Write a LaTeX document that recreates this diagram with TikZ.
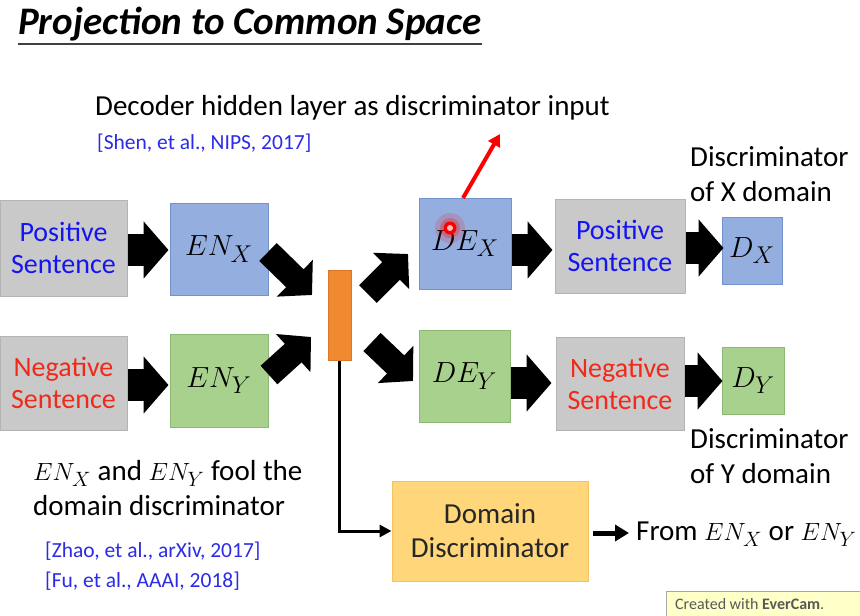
\documentclass[tikz,border=0pt]{standalone}
\usepackage{fontspec}
\setmainfont{Carlito}
\usepackage{graphicx}
\usetikzlibrary{arrows.meta}
\newcommand\boxmath[1]{\scalebox{1.17}{$#1$}}
\definecolor{grayfill}{HTML}{C9C9C9}
\definecolor{grayline}{HTML}{B4B4B4}
\definecolor{bluefill}{HTML}{94AEE0}
\definecolor{blueline}{HTML}{7493CC}
\definecolor{greenfill}{HTML}{A9D18E}
\definecolor{greenline}{HTML}{8DB872}
\definecolor{orangebar}{HTML}{F08A30}
\definecolor{orangeline}{HTML}{D9772A}
\definecolor{domfill}{HTML}{FFD77A}
\definecolor{domline}{HTML}{F5C260}
\definecolor{citeblue}{HTML}{2B2BE8}
\definecolor{txtblue}{HTML}{1515F0}
\definecolor{txtred}{HTML}{F02A1A}
\definecolor{ecfill}{HTML}{FFFFC8}
\tikzset{
  box/.style={draw, line width=1pt, inner sep=0pt, align=center},
  sentbox/.style={box, fill=grayfill, draw=grayline, font=\fontsize{28}{32}\selectfont},
  encbox/.style={box, fill=bluefill, draw=blueline, font=\fontsize{24.88}{30}\selectfont},
  encgbox/.style={box, fill=greenfill, draw=greenline, font=\fontsize{24.88}{30}\selectfont},
  lbl/.style={anchor=west, inner sep=0pt, align=left, font=\fontsize{29}{34.5}\selectfont},
  cite/.style={anchor=west, inner sep=0pt, align=left, text=citeblue, font=\fontsize{21.5}{30}\selectfont},
  fatarrow/.style={line width=32pt, -{Triangle[width=56pt,length=25pt]}},
  diagarrow/.style={line width=25pt, -{Triangle[width=50pt,length=24pt]}},
}
\begin{document}
\begin{tikzpicture}[x=1pt,y=-1pt]
\useasboundingbox (0,0) rectangle (860,616);
\fill[white] (0,0) rectangle (860,616);

% title
\node[anchor=west, inner sep=0pt, font=\fontsize{39}{40}\selectfont\bfseries\itshape] (title) at (18,24) {Projection to Common Space};
\draw[line width=1.3pt, black!75] (title.west |- 0,44) -- ++(464,0);

% top text
\node[lbl] (dec) at (95,108) {Decoder hidden layer as discriminator input};
\node[cite] (shen) at (97,143) {[Shen, et al., NIPS, 2017]};

% boxes row 1
\node[sentbox, minimum width=127pt, minimum height=96pt, text=txtblue] (pos1) at (63.5,248) {Positive\\Sentence};
\node[encbox, minimum width=98pt, minimum height=92pt] (enx) at (219,249) {\boxmath{EN_X}};
\node[encbox, minimum width=92pt, minimum height=91pt] (dex) at (465,243.5) {\boxmath{DE_X}};
\node[sentbox, minimum width=130pt, minimum height=94pt, text=txtblue] (pos2) at (620,246) {Positive\\Sentence};
\node[encbox, minimum width=60pt, minimum height=67pt] (dxd) at (752,250.5) {\boxmath{D_X}};

% boxes row 2
\node[sentbox, minimum width=127pt, minimum height=94pt, text=txtred] (neg1) at (63.5,383) {Negative\\Sentence};
\node[encgbox, minimum width=98pt, minimum height=93pt] (eny) at (219,380.5) {\boxmath{EN_Y}};
\node[encgbox, minimum width=91pt, minimum height=92pt] (dey) at (464.5,376) {\boxmath{DE_Y}};
\node[sentbox, minimum width=128pt, minimum height=93pt, text=txtred] (neg2) at (620,383.5) {Negative\\Sentence};
\node[encgbox, minimum width=62pt, minimum height=67pt] (dyd) at (753,380.5) {\boxmath{D_Y}};

% orange bar
\node[box, fill=orangebar, draw=orangeline, minimum width=23pt, minimum height=90pt] (bar) at (339.5,315) {};

% domain discriminator
\node[box, fill=domfill, draw=domline, minimum width=196pt, minimum height=100pt, text=black!85, font=\fontsize{29}{34}\selectfont] (dom) at (490,531) {Domain\\Discriminator};

% labels
\node[lbl] (dxl) at (690,174) {Discriminator\\of X domain};
\node[lbl] (dyl) at (690,456) {Discriminator\\of Y domain};
\node[lbl] (fool) at (33,488) {$EN_X$ and $EN_Y$ fool the\\domain discriminator};
\node[cite] (zhao) at (45,566) {[Zhao, et al., arXiv, 2017]\\{}[Fu, et al., AAAI, 2018]};
\node[lbl] (from) at (636,534) {From $EN_X$ or $EN_Y$};

% horizontal fat arrows
\draw[fatarrow] (pos1.east |- 0,250) -- ++(41,0);
\draw[fatarrow] (neg1.east |- 0,385) -- ++(41,0);
\draw[fatarrow] (dex.east |- 0,250) -- ++(41,0);
\draw[fatarrow] (dey.east |- 0,383) -- ++(41,0);
\draw[fatarrow] (pos2.east |- 0,248) -- ++(38,0);
\draw[fatarrow] (neg2.east |- 0,381) -- ++(38,0);

% diagonal arrows
\coordinate (a1s) at (268,252);
\coordinate (a1e) at (312,295);
\coordinate (a2s) at (269,375);
\coordinate (a2e) at (311,337);
\coordinate (a3s) at (368,294);
\coordinate (a3e) at (408,254);
\coordinate (a4s) at (372,342);
\coordinate (a4e) at (413,381);
\draw[diagarrow] (a1s) -- (a1e);
\draw[diagarrow] (a2s) -- (a2e);
\draw[diagarrow] (a3s) -- (a3e);
\draw[diagarrow] (a4s) -- (a4e);

% bar to domain discriminator
\draw[line width=3pt, -{Triangle[width=12pt,length=12pt]}] (bar.south) |- (dom.west);
% domain to output
\coordinate (o1) at (593,533);
\coordinate (o2) at (629,533);
\draw[line width=5pt, -{Triangle[width=16pt,length=14pt]}] (o1) -- (o2);

% red arrow
\coordinate (r1) at (463,198);
\coordinate (r2) at (500,134);
\draw[line width=4pt, red, -{Triangle[width=13pt,length=12pt]}] (r1) -- (r2);
% laser dot
\fill[red, opacity=0.15] (450,228) circle (15pt);
\fill[red, opacity=0.25] (450,228) circle (10pt);
\fill[red] (450,228) circle (6.5pt);
\fill[white!75!red] (450,228) circle (3pt);

% evercam watermark
\node[draw=gray!70, fill=ecfill, line width=0.8pt, anchor=north west, minimum width=200pt, minimum height=30pt, inner sep=0pt] (ec) at (666,591) {};
\node[anchor=west, inner sep=0pt, text=black!65, font=\fontsize{16}{18}\selectfont] (ect) at (675,604) {Created with \textbf{EverCam}.};
\end{tikzpicture}
\end{document}
